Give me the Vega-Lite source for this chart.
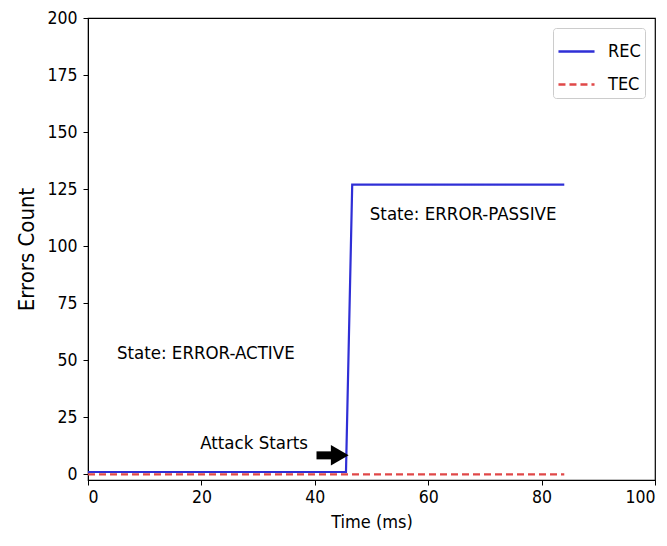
{
  "$schema": "https://vega.github.io/schema/vega-lite/v6.json",
  "autosize": "none",
  "width": 567,
  "height": 462,
  "padding": {"left": 88, "top": 18, "right": 12, "bottom": 66},
  "background": "white",
  "config": {
    "font": "DejaVu Sans Condensed",
    "view": {"stroke": "black", "strokeWidth": 1.2},
    "axis": {
      "grid": false,
      "domainColor": "black",
      "tickColor": "black",
      "labelColor": "black",
      "titleColor": "black",
      "labelFont": "DejaVu Sans Condensed",
      "titleFont": "DejaVu Sans Condensed",
      "labelFontSize": 17.5,
      "titleFontSize": 18,
      "titleFontWeight": "normal",
      "tickSize": 5,
      "labelPadding": 3
    },
    "legend": {
      "labelFont": "DejaVu Sans Condensed",
      "labelFontSize": 18
    }
  },
  "datasets": {
    "lines": [
      {"t": 0, "v": 1, "series": "REC"},
      {"t": 45.5, "v": 1, "series": "REC"},
      {"t": 46.6, "v": 127, "series": "REC"},
      {"t": 84, "v": 127, "series": "REC"},
      {"t": 0, "v": 0, "series": "TEC"},
      {"t": 84, "v": 0, "series": "TEC"}
    ],
    "notes": [
      {"t": 5.1, "v": 53, "label": "State: ERROR-ACTIVE"},
      {"t": 49.7, "v": 114, "label": "State: ERROR-PASSIVE"},
      {"t": 19.8, "v": 13.8, "label": "Attack Starts"}
    ],
    "arrow": [
      {"t": 40.3, "t2": 43.5, "v": 8.3, "tip": 44.4}
    ]
  },
  "layer": [
    {
      "data": {"name": "lines"},
      "mark": {"type": "line", "strokeWidth": 2.2, "clip": true},
      "encoding": {
        "x": {
          "field": "t", "type": "quantitative",
          "scale": {"domain": [0, 100], "nice": false, "zero": false},
          "axis": {"values": [0, 20, 40, 60, 80, 100], "title": "Time (ms)", "titlePadding": 8}
        },
        "y": {
          "field": "v", "type": "quantitative",
          "scale": {"domain": [-2.5, 200], "nice": false, "zero": false},
          "axis": {"values": [0, 25, 50, 75, 100, 125, 150, 175, 200], "title": "Errors Count", "titleFontSize": 22, "titlePadding": 8, "labelPadding": 6}
        },
        "color": {
          "field": "series", "type": "nominal",
          "scale": {"domain": ["REC", "TEC"], "range": ["#2f2fd6", "#e04848"]},
          "legend": {
            "title": null,
            "orient": "top-right",
            "offset": 10,
            "strokeColor": "#cccccc",
            "fillColor": "white",
            "padding": 4,
            "cornerRadius": 3,
            "symbolType": "stroke",
            "symbolSize": 1300,
            "symbolStrokeWidth": 2.5,
            "rowPadding": 4,
            "labelOffset": 12
          }
        },
        "strokeDash": {
          "field": "series", "type": "nominal",
          "scale": {"domain": ["REC", "TEC"], "range": [[1, 0], [7, 4]]},
          "legend": null
        },
        "order": {"field": "t", "type": "quantitative"}
      }
    },
    {
      "data": {"name": "notes"},
      "mark": {"type": "text", "align": "left", "baseline": "middle", "font": "DejaVu Sans Condensed", "fontSize": 18.5, "color": "black"},
      "encoding": {
        "x": {"field": "t", "type": "quantitative"},
        "y": {"field": "v", "type": "quantitative"},
        "text": {"field": "label"}
      }
    },
    {
      "data": {"name": "arrow"},
      "mark": {"type": "rule", "strokeWidth": 8, "color": "black"},
      "encoding": {
        "x": {"field": "t", "type": "quantitative"},
        "x2": {"field": "t2"},
        "y": {"field": "v", "type": "quantitative"}
      }
    },
    {
      "data": {"name": "arrow"},
      "mark": {"type": "point", "shape": "triangle-right", "filled": true, "size": 420, "color": "black", "opacity": 1},
      "encoding": {
        "x": {"field": "tip", "type": "quantitative"},
        "y": {"field": "v", "type": "quantitative"}
      }
    }
  ]
}
